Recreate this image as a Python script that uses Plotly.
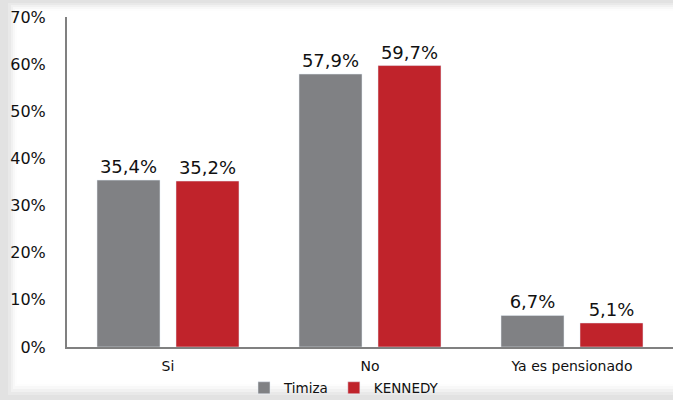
import plotly.graph_objects as go

categories = ["Si", "No", "Ya es pensionado"]
timiza = [35.4, 57.9, 6.7]
kennedy = [35.2, 59.7, 5.1]
series_names = ["Timiza", "KENNEDY"]
tick_vals = [0, 10, 20, 30, 40, 50, 60, 70]
tick_text = ["0%", "10%", "20%", "30%", "40%", "50%", "60%", "70%"]

W, H = 673, 400
L, R, T, B = 67, 0, 17, 53
pw, ph = W - L - R, H - T - B

def px(x):
    return (x - L) / pw

def py(y):
    return (H - B - y) / ph

def lab(v):
    return f"{v:.1f}".replace(".", ",") + "%"

font = "DejaVu Sans, Verdana, sans-serif"

fig = go.Figure()
fig.add_trace(go.Bar(x=categories, y=timiza, name=series_names[0], marker_color="#808184",
                     text=[lab(v) for v in timiza], textposition="outside", constraintext="none",
                     textfont=dict(size=18, color="#111"), cliponaxis=False))
fig.add_trace(go.Bar(x=categories, y=kennedy, name=series_names[1], marker_color="#c0232b",
                     text=[lab(v) for v in kennedy], textposition="outside", constraintext="none",
                     textfont=dict(size=18, color="#111"), cliponaxis=False))

shapes = []
# gradient frame
levels = [(0, 0, W, H, "#e2e2e2"), (8, 3, W, 395, "#e9e9e9"), (11, 5, W, 392, "#f1f1f1"),
          (13, 7, W, 389, "#f8f8f8"), (15, 9, W, 386, "#fdfdfd"), (17, 11, W, 384, "#ffffff")]
for x0, y0, x1, y1, c in levels:
    shapes.append(dict(type="rect", xref="paper", yref="paper", x0=px(x0), x1=px(x1),
                       y0=py(y1), y1=py(y0), fillcolor=c, line=dict(width=0), layer="below"))

fig.update_layout(
    width=W, height=H,
    margin=dict(l=L, r=R, t=T, b=B, autoexpand=False),
    paper_bgcolor="#e2e2e2", plot_bgcolor="rgba(0,0,0,0)",
    barmode="group", bargap=0.218, bargroupgap=0.2025,
    font=dict(family=font, size=15, color="#111"),
    shapes=shapes,
    showlegend=True,
    legend=dict(orientation="h", x=px(344), xanchor="center", y=py(388), yanchor="middle",
                font=dict(size=13.5, family=font), bgcolor="rgba(0,0,0,0)",
                itemwidth=30, traceorder="normal"),
    xaxis=dict(showline=True, linecolor="#808080", linewidth=2, ticks="", showgrid=False,
               tickfont=dict(size=14, family=font), ticklabelstandoff=5),
    yaxis=dict(range=[0, 70], tickvals=tick_vals, ticktext=tick_text, showgrid=False,
               showline=True, linecolor="#808080", linewidth=2, ticks="", zeroline=False,
               tickfont=dict(size=16, family=font), ticklabelstandoff=16),
)

fig.write_html("out.html", config={"displayModeBar": False},
               post_script="document.body.style.margin='0';document.body.style.overflow='hidden';")
